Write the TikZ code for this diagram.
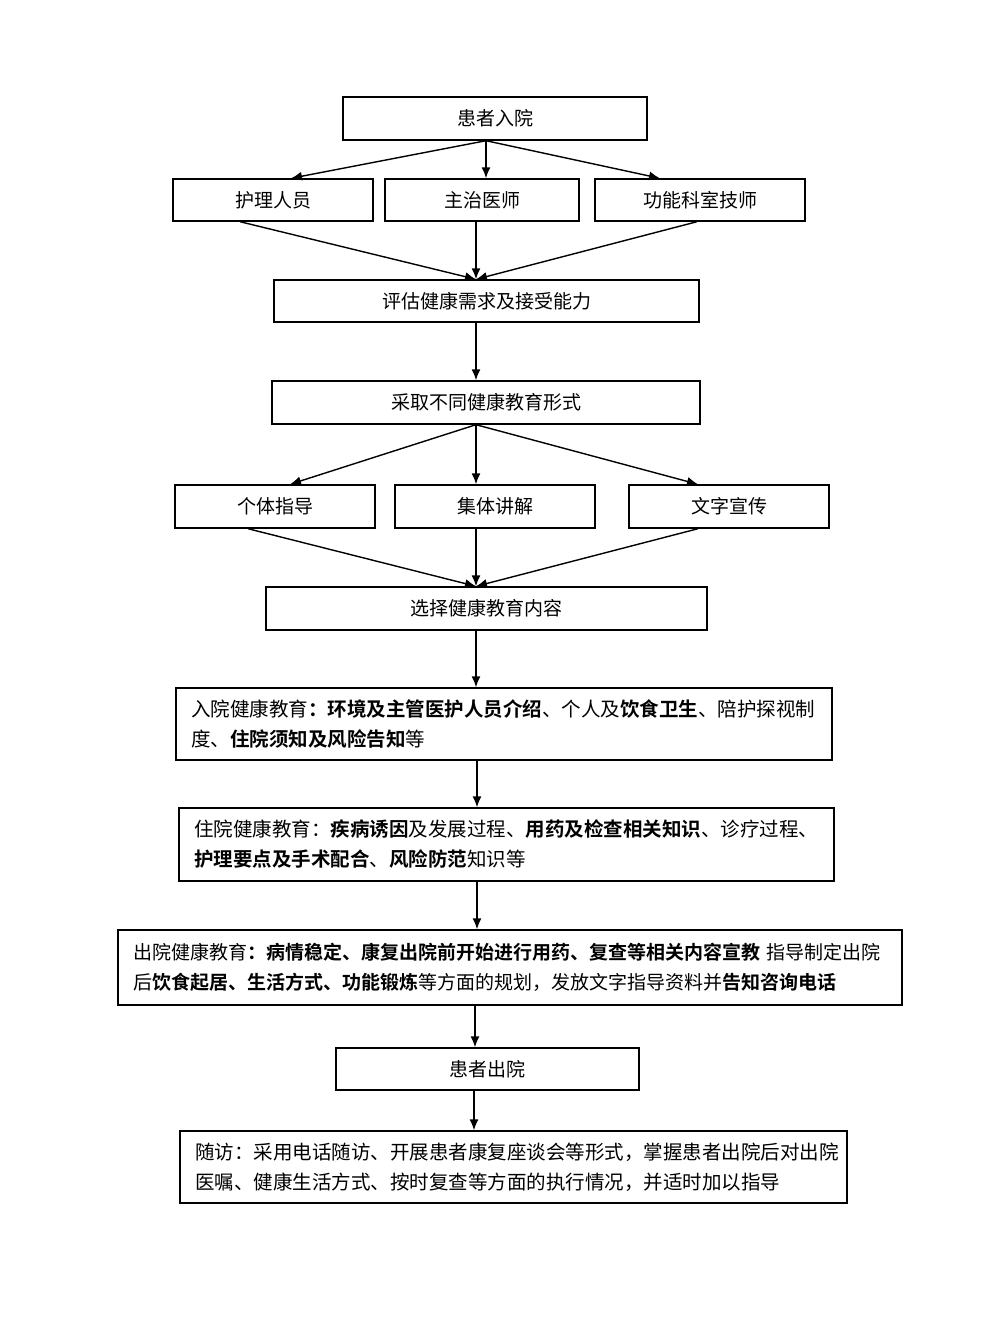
\documentclass[tikz,border=0pt]{standalone}
\usepackage{fontspec}
\setmainfont{Noto Sans CJK SC}[BoldFont={* Bold}]
\usetikzlibrary{arrows.meta}
\begin{document}
\begin{tikzpicture}[x=1pt, y=-1pt, line width=1.4pt, >={Latex[length=11pt,width=9pt]},
	box/.style={draw, inner sep=0pt, minimum height=43pt, font=\fontsize{19}{23}\selectfont},
	para/.style={draw, inner xsep=15pt, inner ysep=0pt, align=left, font=\fontsize{19.5}{30}\selectfont}]
	\useasboundingbox (0,0) rectangle (980,1333);
			% top row
			\node[box, minimum width=304pt] (adm) at (495,118.5) {患者入院};
			\node[box, minimum width=200pt, minimum height=42pt] (nurse) at (273,200) {护理人员};
			\node[box, minimum width=194pt, minimum height=42pt] (doctor) at (482,200) {主治医师};
			\node[box, minimum width=210pt, minimum height=42pt] (tech) at (700,200) {功能科室技师};
			\node[box, minimum width=425pt, minimum height=42pt] (assess) at (486.5,301) {评估健康需求及接受能力};
			\node[box, minimum width=428pt] (form) at (486,402.5) {采取不同健康教育形式};
			% forms
			\node[box, minimum width=200pt] (single) at (275,506.5) {个体指导};
			\node[box, minimum width=200pt] (group) at (495,506.5) {集体讲解};
			\node[box, minimum width=200pt] (text) at (729,506.5) {文字宣传};
			\node[box, minimum width=441pt] (content) at (486.5,608.5) {选择健康教育内容};
			% contents
			\node[para, text width=626pt, minimum height=72pt] (admit) at (504,724)
			{入院健康教育\textbf{：环境及主管医护人员介绍}、个人及\textbf{饮食卫生}、陪护探视制\\
			度、\textbf{住院须知及风险告知}等};
			\node[para, text width=625pt, minimum height=73pt] (stay) at (506.5,844.5)
			{住院健康教育：\textbf{疾病诱因}及发展过程、\textbf{用药及检查相关知识}、诊疗过程、\\
			\textbf{护理要点及手术配合}、\textbf{风险防范}知识等};
			\node[para, text width=754pt, minimum height=75pt, font=\fontsize{19}{30}\selectfont] (leave) at (510,967.5)
			{出院健康教育\textbf{：病情稳定、康复出院前开始进行用药、复查等相关内容宣教}~指导制定出院\\
			后\textbf{饮食起居、生活方式、功能锻炼}等方面的规划，发放文字指导资料并\textbf{告知咨询电话}};
			\node[box, minimum width=303pt, minimum height=42pt] (out) at (487.5,1069) {患者出院};
			\node[para, text width=637pt, minimum height=72pt] (visit) at (513.5,1167)
			{随访：采用电话随访、开展患者康复座谈会等形式，掌握患者出院后对出院\\
			医嘱、健康生活方式、按时复查等方面的执行情况，并适时加以指导};
			% arrows
			\draw[->] ([xshift=-9pt]adm.south) -- ([xshift=18pt]nurse.north);
			\draw[->] ([xshift=-9pt]adm.south) -- ([xshift=4pt]doctor.north);
			\draw[->] ([xshift=-9pt]adm.south) -- ([xshift=-40pt]tech.north);
			\draw[->] ([xshift=-33pt]nurse.south) -- ([xshift=-10.5pt]assess.north);
			\draw[->] ([xshift=-6pt]doctor.south) -- ([xshift=-10.5pt]assess.north);
			\draw[->] ([xshift=-3pt]tech.south) -- ([xshift=-10.5pt]assess.north);
			\draw[->] ([xshift=-10.5pt]assess.south) -- ([xshift=-10pt]form.north);
			\draw[->] ([xshift=-10pt]form.south) -- ([xshift=15pt]single.north);
			\draw[->] ([xshift=-10pt]form.south) -- ([xshift=-19pt]group.north);
			\draw[->] ([xshift=-10pt]form.south) -- ([xshift=-31pt]text.north);
			\draw[->] ([xshift=-27pt]single.south) -- ([xshift=-10.5pt]content.north);
			\draw[->] ([xshift=-19pt]group.south) -- ([xshift=-10.5pt]content.north);
			\draw[->] ([xshift=-31pt]text.south) -- ([xshift=-10.5pt]content.north);
			\draw[->] ([xshift=-10.5pt]content.south) -- ([xshift=-28pt]admit.north);
			\draw[->] ([xshift=-27pt]admit.south) -- ([xshift=-29.5pt]stay.north);
			\draw[->] ([xshift=-29.5pt]stay.south) -- ([xshift=-33pt]leave.north);
			\draw[->] ([xshift=-35pt]leave.south) -- ([xshift=-12.5pt]out.north);
			\draw[->] ([xshift=-13.5pt]out.south) -- ([xshift=-39.5pt]visit.north);
\end{tikzpicture}
\end{document}
